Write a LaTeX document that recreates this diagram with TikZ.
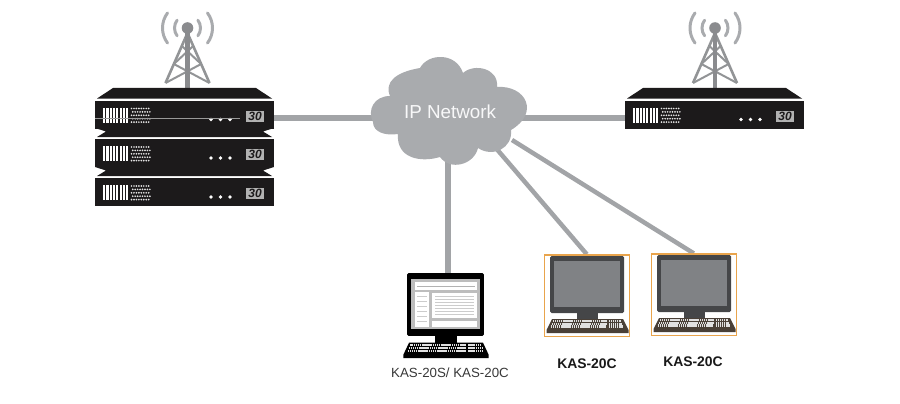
\documentclass[tikz,border=0pt]{standalone}
\usepackage{fontspec}
\setmainfont{Liberation Sans}
\usetikzlibrary{backgrounds}
\definecolor{rackblack}{HTML}{1C1A1B}
\definecolor{linkgrey}{HTML}{A2A4A7}
\definecolor{cloudgrey}{HTML}{A9ABAE}
\definecolor{mastgrey}{HTML}{929496}
\definecolor{framegold}{HTML}{E9A44C}
\definecolor{monitordark}{HTML}{454648}
\definecolor{screengrey}{HTML}{808285}
\definecolor{basebrown}{HTML}{4A4037}
\tikzset{
	link/.style={linkgrey, line width=5.5pt},
	pcframe/.style={minimum width=85pt, minimum height=81.5pt, inner sep=0pt, anchor=north},
	dispbox/.style={fill=black!30, text=rackblack, minimum width=18pt, minimum height=11pt, inner sep=0pt, font=\fontsize{12}{12}\selectfont\bfseries\itshape},
	pics/racklid/.style={code={
		\fill[rackblack] (2,-2) -- (18,-12.5) -- (161,-12.5) -- (177,-2) -- cycle;
	}},
	pics/rackneck/.style={code={
		\fill[rackblack] (0,-11) -- (11,-7.5) -- (2,-2) -- (177,-2) -- (168,-7.5) -- (179,-11) -- cycle;
	}},
	pics/rackunit/.style={code={
		\node[fill=rackblack, minimum width=179pt, minimum height=28pt, inner sep=0pt, anchor=north west] (-front) at (0,0) {};
		\coordinate (-linkw) at (0,17.5);
		\coordinate (-linke) at (179,17.5);
		% vent slots
		\foreach \sx in {0,...,7}
			\fill[white] (8+\sx*3.3,7) rectangle +(2.2,15);
		% dot grid, odd rows shifted by half a step
		\foreach \dr/\dshift in {0/0, 1/1.2, 2/0, 3/1.2, 4/0}
			\foreach \dc in {0,...,7}
				\fill[white!90!black] (36.5+\dc*2.45+\dshift,8+\dr*3.4) circle (0.95);
		% status lights
		\foreach \lx in {116,125.5,135}
			\fill[white] (\lx,19) circle (1.9);
		\node[dispbox] (-disp) at (160,15.5) {30};
	}},
	pics/mast/.style={code={
		% signal arcs
		\foreach \ar in {13,25} {
			\draw[cloudgrey, line width=3pt, line cap=round] (0,0) ++(143:\ar pt) arc[start angle=143, end angle=217, radius=\ar pt];
			\draw[cloudgrey, line width=3pt, line cap=round] (0,0) ++(-37:\ar pt) arc[start angle=-37, end angle=37, radius=\ar pt];
		}
		% lattice
		\draw[mastgrey, line width=2.6pt, line join=round] (-22,55) -- (0,5) -- (22,55);
		\draw[mastgrey, line width=2pt] (-5.7,18) -- (13.6,36) (5.7,18) -- (-13.6,36);
		\draw[mastgrey, line width=2pt] (-13.6,36) -- (22,55) (13.6,36) -- (-22,55);
		\draw[linkgrey!85!black, line width=4.5pt, line cap=round] (0,0) -- (0,60);
		\fill[linkgrey!85!black] (0,0) circle (5.8);
	}},
	pics/desktop/.style args={#1/#2/#3}{code={
		% stand and keyboard
		\fill[#1] (27,55) rectangle (48,64);
		\fill[#3] (2,63) -- (73,63) -- (78.5,74) -- (78.5,77) -- (-3.5,77) -- (-3.5,74) -- cycle;
		\foreach \ky/\kl/\kr in {65/3/57, 67.7/2/56.5, 70.4/1/56}
			\draw[white!88!black, line width=2.4pt, dash pattern=on 1.4pt off 0.5pt] (\kl,\ky) -- (\kr,\ky);
		\foreach \ky/\kl/\kr in {65/59/71, 67.7/59/72, 70.4/59/73}
			\draw[white!88!black, line width=2.4pt, dash pattern=on 1.4pt off 0.5pt] (\kl,\ky) -- (\kr,\ky);
		% monitor
		\fill[#1, rounded corners=1.5pt] (0,0) rectangle (74,57);
		\fill[#2] (4,5) rectangle (70,51);
	}}
}
\begin{document}
\begin{tikzpicture}[x=1pt, y=-1pt]
	\useasboundingbox (0,0) rectangle (900,404);

	% Left stack with mast
	\pic at (187.5,28) {mast};
	\pic at (95,100.5) {racklid};
	\pic at (95,139) {rackneck};
	\pic at (95,178) {rackneck};
	\pic (lefttop) at (95,100.5) {rackunit};
	\pic (leftmid) at (95,139) {rackunit};
	\pic (leftlow) at (95,178) {rackunit};
	\draw[white!60!black, line width=0.5pt] (95,118) -- (240,118);

	% Right unit with mast
	\pic at (715,28) {mast};
	\pic at (625,100.5) {racklid};
	\pic (righttop) at (625,100.5) {rackunit};

	% Cloud
	\fill[cloudgrey] (373,122)
		.. controls (367,110) and (374,96) .. (390,96)
		.. controls (384,82) and (396,72) .. (420,68)
		.. controls (428,53) and (456,52) .. (463,73)
		.. controls (474,63) and (499,68) .. (497,87)
		.. controls (526,85) and (540,113) .. (511,130)
		.. controls (513,148) and (493,158) .. (478,148)
		.. controls (474,165) and (450,171) .. (440,157)
		.. controls (420,163) and (396,158) .. (398,134)
		.. controls (385,136) and (373,132) .. (373,122) -- cycle;
	\node[text=white!92!cloudgrey, font=\fontsize{18.8}{20}\selectfont] (ipnet) at (450,112) {IP Network};
	\coordinate (netw) at (380,118);
	\coordinate (nete) at (520,118);
	\coordinate (nets) at (448,150);
	\coordinate (neta) at (495,147);
	\coordinate (netb) at (512,140);

	% Computers
	\node[pcframe] (pcmain) at (445.5,273) {};
	\pic[xscale=1.04, yscale=1.104] at (407,273) {desktop=black/white!74!black/black};
	\fill[white] (415,282) rectangle (477,290);
	\fill[white] (415,292) rectangle (429,327);
	\fill[white] (432,293) rectangle (477,318);
	\fill[white] (432,321) rectangle (477,327);
	\foreach \ry in {296,299,302,305,308,311,314}
		\draw[white!80!black, line width=0.4pt] (435,\ry) -- (474,\ry);
	\foreach \ry in {296,301,306,311,316,321}
		\draw[white!80!black, line width=0.4pt] (417,\ry) -- (427,\ry);
	\draw[white!70!black, line width=0.5pt] (417,286) -- (475,286);

	\node[pcframe, draw=framegold, line width=1.3pt] (pcleft) at (586.8,254.3) {};
	\pic at (550,256) {desktop=monitordark/screengrey/basebrown};
	\node[pcframe, draw=framegold, line width=1.3pt] (pcright) at (693.8,253.4) {};
	\pic at (657,255) {desktop=monitordark/screengrey/basebrown};

	% Links
	\begin{scope}[on background layer]
		\draw[link] (lefttop-linke) -- (netw);
		\draw[link] (righttop-linkw) -- (nete);
		\draw[link] (nets) -- (nets |- pcmain.north);
		\draw[link, line width=4.5pt] (neta) -- (pcleft.north);
		\draw[link, line width=4.5pt] (netb) -- (pcright.north);
	\end{scope}

	% Labels
	\node[text=black!78, font=\fontsize{13.3}{15}\selectfont] (pcmainlabel) at (450,373) {KAS-20S/ KAS-20C};
	\node[text=black!90, font=\fontsize{13.9}{15}\selectfont\bfseries] (pcleftlabel) at (587,364) {KAS-20C};
	\node[text=black!90, font=\fontsize{13.9}{15}\selectfont\bfseries] (pcrightlabel) at (693,362) {KAS-20C};
\end{tikzpicture}
\end{document}
